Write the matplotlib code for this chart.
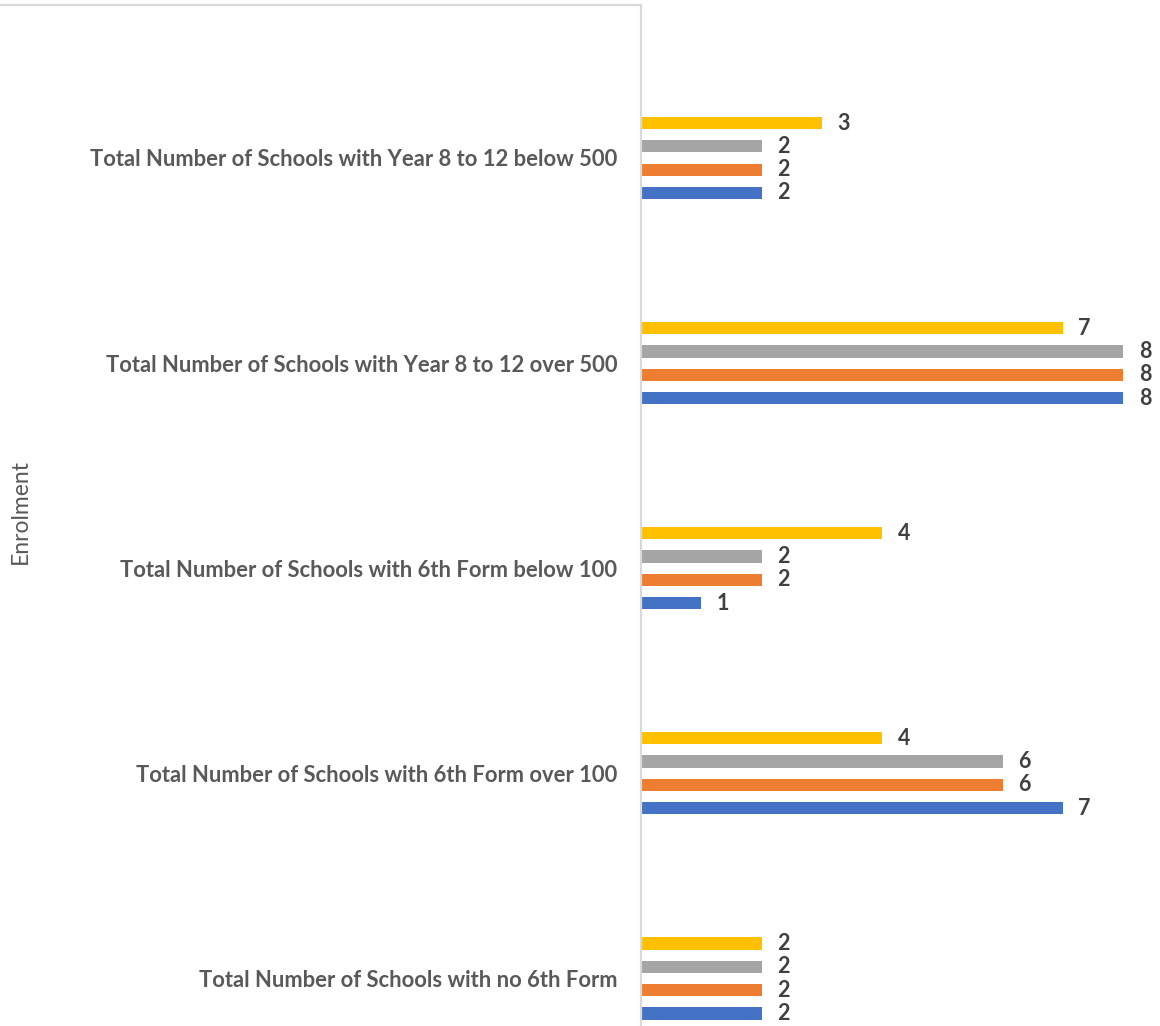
import numpy as np
import matplotlib
matplotlib.use("Agg")
import matplotlib.pyplot as plt
from matplotlib.lines import Line2D

# ---- data ----
categories = [
    "Total Number of Schools with Year 8 to 12 below 500",
    "Total Number of Schools with Year 8 to 12 over 500",
    "Total Number of Schools with 6th Form below 100",
    "Total Number of Schools with 6th Form over 100",
    "Total Number of Schools with no 6th Form",
]
series_names = ["Series 1", "Series 2", "Series 3", "Series 4"]
series_1 = [2, 8, 1, 7, 2]   # blue, bottom bar of each group
series_2 = [2, 8, 2, 6, 2]   # orange
series_3 = [2, 8, 2, 6, 2]   # gray
series_4 = [3, 7, 4, 4, 2]   # yellow, top bar of each group
colors = ["#4472C4", "#ED7D31", "#A5A5A5", "#FFC000"]

plt.rcParams["font.family"] = ["Lato", "DejaVu Sans"]

W, H, DPI = 1160, 1026, 100
fig = plt.figure(figsize=(W / DPI, H / DPI), dpi=DPI)

axis_x = 641
ax = fig.add_axes([axis_x / W, 0, 1 - axis_x / W, 1 - 5 / H])

y = np.arange(len(categories))
step = 0.1137
bar_h = 0.06
offsets = [1.5, 0.5, -0.5, -1.5]

for vals, name, col, off in zip([series_1, series_2, series_3, series_4],
                                series_names, colors, offsets):
    bars = ax.barh(y + off * step, vals, height=bar_h, color=col, label=name)
    for b, v in zip(bars, vals):
        ax.annotate(f"{v}", (b.get_width(), b.get_y() + b.get_height() / 2),
                    xytext=(11, 0), textcoords="offset points",
                    ha="left", va="center", fontsize=15.5, fontweight="bold",
                    color="#404040", annotation_clip=False)

ax.set_xlim(0, (W - axis_x) / 60.3)
ax.set_ylim(868 / 205.1, -153 / 205.1)
ax.set_yticks(y)
ax.set_yticklabels(categories, fontsize=15.8, fontweight="bold", color="#595959")
ax.tick_params(axis="y", length=0, pad=17)
ax.set_xticks([])
for side in ["top", "right", "bottom"]:
    ax.spines[side].set_visible(False)
ax.spines["left"].set_color("#D9D9D9")
ax.spines["left"].set_linewidth(1.6)

# top border line left of the axis
fig.add_artist(Line2D([0, axis_x / W], [1 - 5 / H, 1 - 5 / H],
                      transform=fig.transFigure, color="#D9D9D9", linewidth=1.6))

fig.text(20 / W, 515 / H, "Enrolment", rotation=90, ha="center", va="center",
         fontsize=16.5, color="#595959")

fig.savefig("out.png", dpi=DPI)
